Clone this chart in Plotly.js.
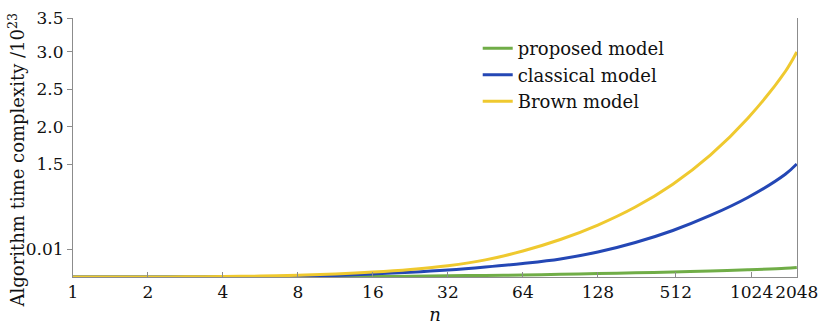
<!DOCTYPE html>
<html>
<head>
<meta charset="utf-8">
<script src="https://cdn.plot.ly/plotly-3.0.1.min.js"></script>
<style>html,body{margin:0;padding:0;background:#fff;}#chart{width:820px;height:327px;}</style>
</head>
<body>
<div id="chart"></div>
<script>
// x sample positions along the (non-uniform) n axis, in tick-index units
const xPos = [0,0.5,1,1.5,2,2.5,3,3.5,4,4.5,5,5.5,6,6.5,7,7.5,8,8.5,9,9.5,9.653];
// series values (display units, 1e23 scale)
const brown = [0,0,0,0.002,0.006,0.012,0.023,0.04,0.065,0.1,0.15,0.228,0.347,0.5,0.693,0.933,1.238,1.625,2.117,2.74,3.0];
const classical = [0,0,0,0,0.001,0.004,0.009,0.021,0.04,0.063,0.093,0.133,0.18,0.24,0.333,0.46,0.62,0.82,1.06,1.37,1.507];
const proposed = [0,0,0,0,0,0,0.001,0.003,0.005,0.011,0.016,0.021,0.027,0.036,0.045,0.056,0.067,0.081,0.096,0.116,0.127];
// tick labels
const xTickVals = [0,1,2,3,4,5,6,7,8.04,9.05,9.653];
const xTickText = ['1','2','4','8','16','32','64','128','512','1024','2048'];
const yTickVals = [0.373,1.5,2.0,2.5,3.0,3.453];
const yTickText = ['0.01','1.5','2.0','2.5','3.0','3.5'];
const yTitle = 'Algorithm time complexity /10<sup>23</sup>';

const font = 'DejaVu Serif, Liberation Serif, serif';
const traces = [
  {x:xPos, y:proposed, name:'proposed model', mode:'lines', line:{color:'#70ad47', width:3, shape:'spline'}},
  {x:xPos, y:classical, name:'classical model', mode:'lines', line:{color:'#2447b5', width:3, shape:'spline'}},
  {x:xPos, y:brown, name:'Brown model', mode:'lines', line:{color:'#efc92f', width:3, shape:'spline'}}
];
const layout = {
  width:820, height:327,
  margin:{l:73, r:23, t:18, b:50},
  paper_bgcolor:'#fff', plot_bgcolor:'#fff',
  font:{family:font, size:17, color:'#111'},
  showlegend:true,
  legend:{x:0.559, y:0.953, xanchor:'left', yanchor:'top', bgcolor:'rgba(0,0,0,0)', borderwidth:0,
          font:{family:font, size:18, color:'#111'}},
  xaxis:{range:[0,9.656], tickmode:'array', tickvals:xTickVals, ticktext:xTickText, tickangle:0,
         showgrid:false, zeroline:false, showline:true, linecolor:'#8c8c8c', linewidth:1,
         ticks:'inside', ticklen:5, tickcolor:'#8c8c8c', tickfont:{family:font, size:17},
         title:{text:'<i>n</i>', font:{family:font, size:18}, standoff:6}},
  yaxis:{range:[0,3.453], tickmode:'array', tickvals:yTickVals, ticktext:yTickText,
         showgrid:false, zeroline:false, showline:true, mirror:true, linecolor:'#8c8c8c', linewidth:1,
         ticks:'outside', ticklen:5, tickcolor:'#8c8c8c', tickfont:{family:font, size:17}},
  annotations:[{text:yTitle, textangle:-90, xref:'paper', yref:'paper', x:0, y:0.45,
                xanchor:'center', yanchor:'middle', xshift:-56, showarrow:false,
                font:{family:font, size:18, color:'#111'}}]
};
Plotly.newPlot('chart', traces, layout, {displayModeBar:false, staticPlot:true});
</script>
</body>
</html>
